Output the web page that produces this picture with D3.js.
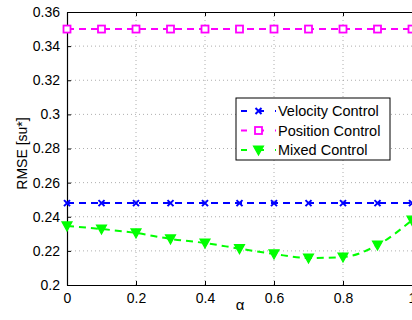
<!DOCTYPE html>
<html>
<head>
<meta charset="utf-8">
<script src="https://cdn.jsdelivr.net/npm/d3@7"></script>
<style>
  body { margin: 0; background: #fff; }
  svg { display: block; }
  text { font-family: "Liberation Sans", Arial, sans-serif; }
</style>
</head>
<body>
<div id="chart"></div>
<script>
const alphas = [0, 0.1, 0.2, 0.3, 0.4, 0.5, 0.6, 0.7, 0.8, 0.9, 1.0];
const velocity = [0.248, 0.248, 0.248, 0.248, 0.248, 0.248, 0.248, 0.248, 0.248, 0.248, 0.248];
const position = [0.35, 0.35, 0.35, 0.35, 0.35, 0.35, 0.35, 0.35, 0.35, 0.35, 0.35];
const mixed = [0.2346, 0.2328, 0.2305, 0.227, 0.2246, 0.2213, 0.2182, 0.2158, 0.2164, 0.2234, 0.238];
const xTicks = [0, 0.2, 0.4, 0.6, 0.8, 1];
const yTicks = [0.2, 0.22, 0.24, 0.26, 0.28, 0.3, 0.32, 0.34, 0.36];
const seriesNames = ["Velocity Control", "Position Control", "Mixed Control"];

const width = 412, height = 320;
const margin = { left: 67, right: 0, top: 12, bottom: 35 };

const svg = d3.select("#chart").append("svg")
  .attr("width", width).attr("height", height);

const x = d3.scaleLinear().domain([0, 1]).range([margin.left, width - margin.right]);
const y = d3.scaleLinear().domain([0.2, 0.36]).range([height - margin.bottom, margin.top]);

// grid
const grid = svg.append("g").attr("stroke", "#999").attr("stroke-width", 0.8).attr("stroke-dasharray", "1,3");
yTicks.slice(1, -1).forEach(t => {
  grid.append("line").attr("x1", x(0)).attr("x2", x(1)).attr("y1", y(t)).attr("y2", y(t));
});
xTicks.slice(1, -1).forEach(t => {
  grid.append("line").attr("x1", x(t)).attr("x2", x(t)).attr("y1", y(0.2)).attr("y2", y(0.36));
});

// axes
const xAxis = svg.append("g").attr("transform", `translate(0,${y(0.2)})`)
  .call(d3.axisBottom(x).tickValues(xTicks).tickSizeInner(-4).tickSizeOuter(0).tickPadding(8).tickFormat(d3.format("")));
const xTop = svg.append("g").attr("transform", `translate(0,${y(0.36)})`)
  .call(d3.axisTop(x).tickValues(xTicks).tickSizeInner(-4).tickSizeOuter(0).tickFormat(""));
const yAxis = svg.append("g").attr("transform", `translate(${x(0)},0)`)
  .call(d3.axisLeft(y).tickValues(yTicks).tickSizeInner(-4).tickSizeOuter(0).tickPadding(7).tickFormat(d3.format("")));
[xAxis, xTop, yAxis].forEach(g => {
  g.attr("font-family", null);
  g.select(".domain").attr("stroke", "#000").attr("stroke-width", 1.2);
  g.selectAll("text").attr("font-size", 14).attr("fill", "#000");
});

svg.append("text").attr("x", (x(0) + x(1)) / 2 + 0.5).attr("y", 310)
  .attr("text-anchor", "middle").attr("font-size", 15).text("α");
svg.append("text").attr("transform", `translate(27,${(y(0.2) + y(0.36)) / 2 + 5}) rotate(-90)`)
  .attr("text-anchor", "middle").attr("font-size", 14).text("RMSE [su*]");

const line = d3.line().x((d, i) => x(alphas[i])).y(d => y(d));
const lineCurve = d3.line().x((d, i) => x(alphas[i])).y(d => y(d)).curve(d3.curveMonotoneX);

const plot = svg.append("g");

function marker(g, type, cx, cy, color) {
  if (type === "x") {
    g.append("path").attr("d", `M${cx - 3},${cy - 3}L${cx + 3},${cy + 3}M${cx - 3},${cy + 3}L${cx + 3},${cy - 3}`)
      .attr("stroke", color).attr("stroke-width", 2);
  } else if (type === "sq") {
    g.append("rect").attr("x", cx - 3.5).attr("y", cy - 3.5).attr("width", 7).attr("height", 7)
      .attr("fill", "#fff").attr("stroke", color).attr("stroke-width", 1.8);
  } else {
    g.append("path").attr("d", `M${cx - 5},${cy - 4}L${cx + 5},${cy - 4}L${cx},${cy + 5}Z`)
      .attr("fill", color).attr("stroke", color).attr("stroke-width", 1.2);
  }
}

const series = [
  { data: velocity, color: "#0000ff", m: "x", gen: line },
  { data: position, color: "#ff00ff", m: "sq", gen: line },
  { data: mixed, color: "#00ff00", m: "tri", gen: lineCurve }
];
series.forEach(s => {
  plot.append("path").datum(s.data).attr("d", s.gen).attr("fill", "none")
    .attr("stroke", s.color).attr("stroke-width", 2).attr("stroke-dasharray", "7,5");
  s.data.forEach((v, i) => marker(plot, s.m, x(alphas[i]), y(v), s.color));
});

// legend
const lg = svg.append("g").attr("transform", "translate(236,98)");
lg.append("rect").attr("width", 154).attr("height", 62).attr("fill", "#fff").attr("stroke", "#000").attr("stroke-width", 1);
series.forEach((s, i) => {
  const ly = 13 + i * 19.5;
  lg.append("line").attr("x1", 5).attr("x2", 40).attr("y1", ly).attr("y2", ly)
    .attr("stroke", s.color).attr("stroke-width", 2).attr("stroke-dasharray", "6,11");
  marker(lg, s.m, 22.5, ly, s.color);
  lg.append("text").attr("x", 42).attr("y", ly + 5).attr("font-size", 14.5).text(seriesNames[i]);
});
</script>
</body>
</html>
